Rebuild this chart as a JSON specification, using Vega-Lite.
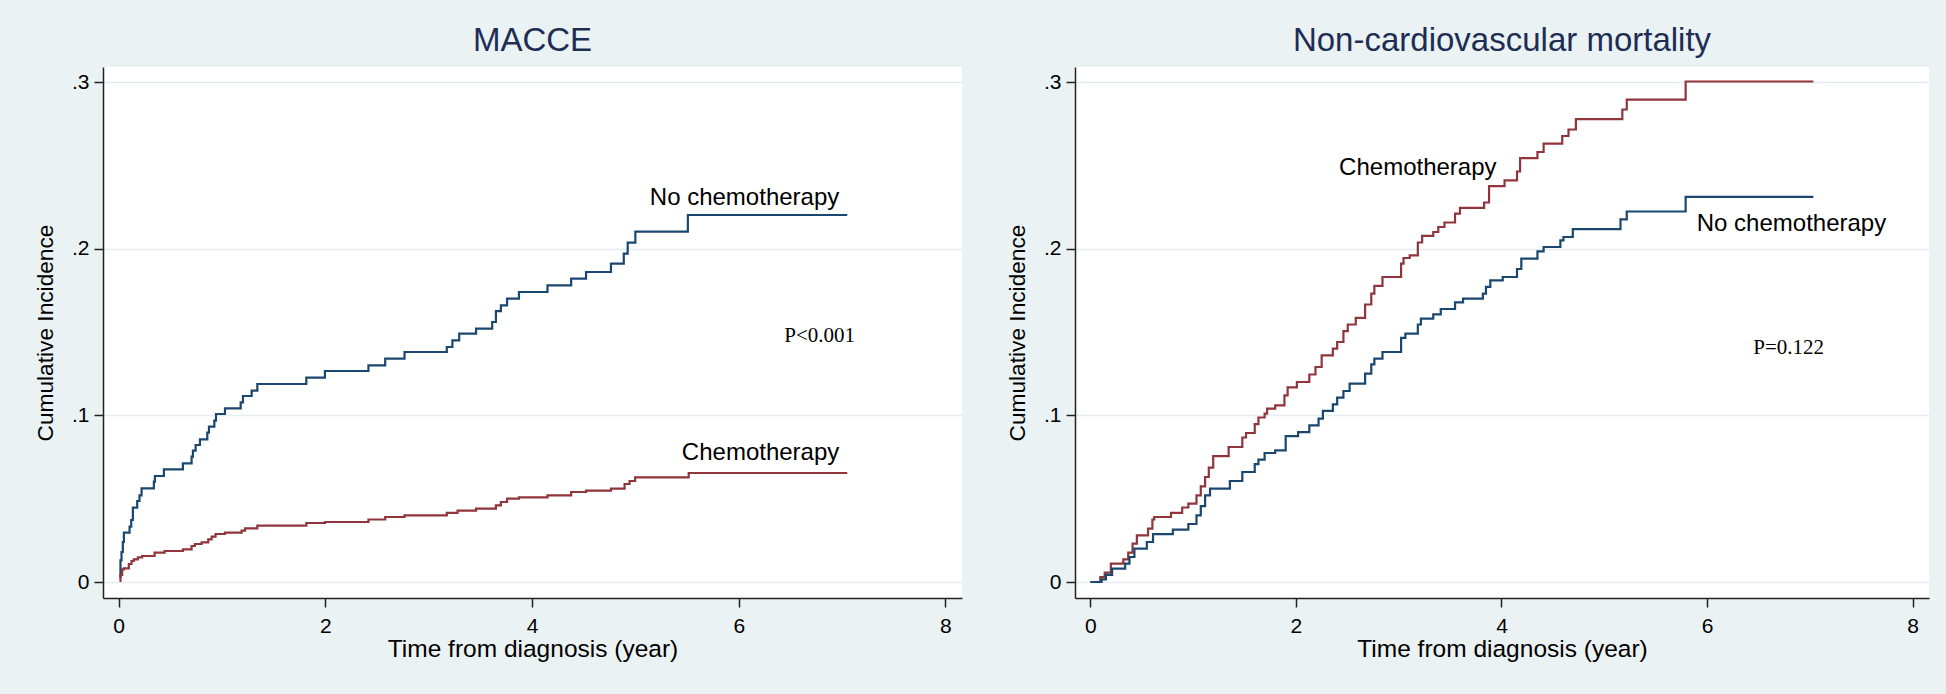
{
  "$schema": "https://vega.github.io/schema/vega-lite/v6.json",
  "background": "#EAF2F3",
  "padding": {"left": 34, "top": 25, "right": 18, "bottom": 37},
  "bounds": "flush",
  "spacing": 113,
  "datasets": {
    "curves": [
      {"p": "MACCE", "g": "No chemotherapy", "t": 0.01, "ci": 0.003},
      {"p": "MACCE", "g": "No chemotherapy", "t": 0.019, "ci": 0.013},
      {"p": "MACCE", "g": "No chemotherapy", "t": 0.029, "ci": 0.018},
      {"p": "MACCE", "g": "No chemotherapy", "t": 0.042, "ci": 0.024},
      {"p": "MACCE", "g": "No chemotherapy", "t": 0.052, "ci": 0.0296},
      {"p": "MACCE", "g": "No chemotherapy", "t": 0.107, "ci": 0.0332},
      {"p": "MACCE", "g": "No chemotherapy", "t": 0.123, "ci": 0.0372},
      {"p": "MACCE", "g": "No chemotherapy", "t": 0.139, "ci": 0.0446},
      {"p": "MACCE", "g": "No chemotherapy", "t": 0.181, "ci": 0.0486},
      {"p": "MACCE", "g": "No chemotherapy", "t": 0.203, "ci": 0.052},
      {"p": "MACCE", "g": "No chemotherapy", "t": 0.223, "ci": 0.0562},
      {"p": "MACCE", "g": "No chemotherapy", "t": 0.342, "ci": 0.0602},
      {"p": "MACCE", "g": "No chemotherapy", "t": 0.352, "ci": 0.0636},
      {"p": "MACCE", "g": "No chemotherapy", "t": 0.439, "ci": 0.0676},
      {"p": "MACCE", "g": "No chemotherapy", "t": 0.623, "ci": 0.0712},
      {"p": "MACCE", "g": "No chemotherapy", "t": 0.707, "ci": 0.0752},
      {"p": "MACCE", "g": "No chemotherapy", "t": 0.72, "ci": 0.0788},
      {"p": "MACCE", "g": "No chemotherapy", "t": 0.746, "ci": 0.0822},
      {"p": "MACCE", "g": "No chemotherapy", "t": 0.788, "ci": 0.0856},
      {"p": "MACCE", "g": "No chemotherapy", "t": 0.859, "ci": 0.0896},
      {"p": "MACCE", "g": "No chemotherapy", "t": 0.875, "ci": 0.0932},
      {"p": "MACCE", "g": "No chemotherapy", "t": 0.927, "ci": 0.0968},
      {"p": "MACCE", "g": "No chemotherapy", "t": 0.943, "ci": 0.1008},
      {"p": "MACCE", "g": "No chemotherapy", "t": 1.03, "ci": 0.1042},
      {"p": "MACCE", "g": "No chemotherapy", "t": 1.182, "ci": 0.1078},
      {"p": "MACCE", "g": "No chemotherapy", "t": 1.204, "ci": 0.1116},
      {"p": "MACCE", "g": "No chemotherapy", "t": 1.288, "ci": 0.1148},
      {"p": "MACCE", "g": "No chemotherapy", "t": 1.343, "ci": 0.1188},
      {"p": "MACCE", "g": "No chemotherapy", "t": 1.817, "ci": 0.1226},
      {"p": "MACCE", "g": "No chemotherapy", "t": 1.997, "ci": 0.1266},
      {"p": "MACCE", "g": "No chemotherapy", "t": 2.418, "ci": 0.130},
      {"p": "MACCE", "g": "No chemotherapy", "t": 2.58, "ci": 0.134},
      {"p": "MACCE", "g": "No chemotherapy", "t": 2.767, "ci": 0.138},
      {"p": "MACCE", "g": "No chemotherapy", "t": 3.176, "ci": 0.141},
      {"p": "MACCE", "g": "No chemotherapy", "t": 3.23, "ci": 0.145},
      {"p": "MACCE", "g": "No chemotherapy", "t": 3.296, "ci": 0.149},
      {"p": "MACCE", "g": "No chemotherapy", "t": 3.459, "ci": 0.152},
      {"p": "MACCE", "g": "No chemotherapy", "t": 3.615, "ci": 0.156},
      {"p": "MACCE", "g": "No chemotherapy", "t": 3.651, "ci": 0.1625},
      {"p": "MACCE", "g": "No chemotherapy", "t": 3.699, "ci": 0.166},
      {"p": "MACCE", "g": "No chemotherapy", "t": 3.759, "ci": 0.170},
      {"p": "MACCE", "g": "No chemotherapy", "t": 3.874, "ci": 0.174},
      {"p": "MACCE", "g": "No chemotherapy", "t": 4.15, "ci": 0.178},
      {"p": "MACCE", "g": "No chemotherapy", "t": 4.379, "ci": 0.182},
      {"p": "MACCE", "g": "No chemotherapy", "t": 4.523, "ci": 0.186},
      {"p": "MACCE", "g": "No chemotherapy", "t": 4.764, "ci": 0.191},
      {"p": "MACCE", "g": "No chemotherapy", "t": 4.888, "ci": 0.197},
      {"p": "MACCE", "g": "No chemotherapy", "t": 4.926, "ci": 0.2036},
      {"p": "MACCE", "g": "No chemotherapy", "t": 5.0, "ci": 0.2102},
      {"p": "MACCE", "g": "No chemotherapy", "t": 5.508, "ci": 0.2202},
      {"p": "MACCE", "g": "No chemotherapy", "t": 7.05, "ci": 0.2202},
      {"p": "MACCE", "g": "Chemotherapy", "t": 0.01, "ci": 0.0006},
      {"p": "MACCE", "g": "Chemotherapy", "t": 0.019, "ci": 0.0042},
      {"p": "MACCE", "g": "Chemotherapy", "t": 0.0355, "ci": 0.0076},
      {"p": "MACCE", "g": "Chemotherapy", "t": 0.052, "ci": 0.0082},
      {"p": "MACCE", "g": "Chemotherapy", "t": 0.1, "ci": 0.0108},
      {"p": "MACCE", "g": "Chemotherapy", "t": 0.126, "ci": 0.0126},
      {"p": "MACCE", "g": "Chemotherapy", "t": 0.148, "ci": 0.0136},
      {"p": "MACCE", "g": "Chemotherapy", "t": 0.187, "ci": 0.0148},
      {"p": "MACCE", "g": "Chemotherapy", "t": 0.229, "ci": 0.0156},
      {"p": "MACCE", "g": "Chemotherapy", "t": 0.349, "ci": 0.0176},
      {"p": "MACCE", "g": "Chemotherapy", "t": 0.446, "ci": 0.0186},
      {"p": "MACCE", "g": "Chemotherapy", "t": 0.623, "ci": 0.0196},
      {"p": "MACCE", "g": "Chemotherapy", "t": 0.707, "ci": 0.0216},
      {"p": "MACCE", "g": "Chemotherapy", "t": 0.739, "ci": 0.0228},
      {"p": "MACCE", "g": "Chemotherapy", "t": 0.804, "ci": 0.0238},
      {"p": "MACCE", "g": "Chemotherapy", "t": 0.868, "ci": 0.0256},
      {"p": "MACCE", "g": "Chemotherapy", "t": 0.901, "ci": 0.0272},
      {"p": "MACCE", "g": "Chemotherapy", "t": 0.939, "ci": 0.0288},
      {"p": "MACCE", "g": "Chemotherapy", "t": 1.03, "ci": 0.0296},
      {"p": "MACCE", "g": "Chemotherapy", "t": 1.191, "ci": 0.0308},
      {"p": "MACCE", "g": "Chemotherapy", "t": 1.224, "ci": 0.0322},
      {"p": "MACCE", "g": "Chemotherapy", "t": 1.343, "ci": 0.0338},
      {"p": "MACCE", "g": "Chemotherapy", "t": 1.817, "ci": 0.0354},
      {"p": "MACCE", "g": "Chemotherapy", "t": 1.997, "ci": 0.036},
      {"p": "MACCE", "g": "Chemotherapy", "t": 2.418, "ci": 0.0375},
      {"p": "MACCE", "g": "Chemotherapy", "t": 2.58, "ci": 0.039},
      {"p": "MACCE", "g": "Chemotherapy", "t": 2.767, "ci": 0.040},
      {"p": "MACCE", "g": "Chemotherapy", "t": 3.176, "ci": 0.0415},
      {"p": "MACCE", "g": "Chemotherapy", "t": 3.28, "ci": 0.0428},
      {"p": "MACCE", "g": "Chemotherapy", "t": 3.459, "ci": 0.044},
      {"p": "MACCE", "g": "Chemotherapy", "t": 3.651, "ci": 0.046},
      {"p": "MACCE", "g": "Chemotherapy", "t": 3.699, "ci": 0.048},
      {"p": "MACCE", "g": "Chemotherapy", "t": 3.759, "ci": 0.050},
      {"p": "MACCE", "g": "Chemotherapy", "t": 3.874, "ci": 0.0508},
      {"p": "MACCE", "g": "Chemotherapy", "t": 4.15, "ci": 0.052},
      {"p": "MACCE", "g": "Chemotherapy", "t": 4.379, "ci": 0.054},
      {"p": "MACCE", "g": "Chemotherapy", "t": 4.523, "ci": 0.0548},
      {"p": "MACCE", "g": "Chemotherapy", "t": 4.764, "ci": 0.056},
      {"p": "MACCE", "g": "Chemotherapy", "t": 4.896, "ci": 0.0588},
      {"p": "MACCE", "g": "Chemotherapy", "t": 4.944, "ci": 0.0606},
      {"p": "MACCE", "g": "Chemotherapy", "t": 4.998, "ci": 0.0628},
      {"p": "MACCE", "g": "Chemotherapy", "t": 5.516, "ci": 0.0654},
      {"p": "MACCE", "g": "Chemotherapy", "t": 7.05, "ci": 0.0654},
      {"p": "NCV", "g": "Chemotherapy", "t": 0, "ci": 0},
      {"p": "NCV", "g": "Chemotherapy", "t": 0.0965, "ci": 0.003},
      {"p": "NCV", "g": "Chemotherapy", "t": 0.139, "ci": 0.0056},
      {"p": "NCV", "g": "Chemotherapy", "t": 0.199, "ci": 0.011},
      {"p": "NCV", "g": "Chemotherapy", "t": 0.32, "ci": 0.0136},
      {"p": "NCV", "g": "Chemotherapy", "t": 0.368, "ci": 0.0176},
      {"p": "NCV", "g": "Chemotherapy", "t": 0.41, "ci": 0.023},
      {"p": "NCV", "g": "Chemotherapy", "t": 0.452, "ci": 0.028},
      {"p": "NCV", "g": "Chemotherapy", "t": 0.561, "ci": 0.032},
      {"p": "NCV", "g": "Chemotherapy", "t": 0.603, "ci": 0.0375},
      {"p": "NCV", "g": "Chemotherapy", "t": 0.621, "ci": 0.039},
      {"p": "NCV", "g": "Chemotherapy", "t": 0.784, "ci": 0.0415},
      {"p": "NCV", "g": "Chemotherapy", "t": 0.893, "ci": 0.0447},
      {"p": "NCV", "g": "Chemotherapy", "t": 0.953, "ci": 0.047},
      {"p": "NCV", "g": "Chemotherapy", "t": 1.032, "ci": 0.052},
      {"p": "NCV", "g": "Chemotherapy", "t": 1.074, "ci": 0.0574},
      {"p": "NCV", "g": "Chemotherapy", "t": 1.116, "ci": 0.063},
      {"p": "NCV", "g": "Chemotherapy", "t": 1.152, "ci": 0.0686},
      {"p": "NCV", "g": "Chemotherapy", "t": 1.195, "ci": 0.0755},
      {"p": "NCV", "g": "Chemotherapy", "t": 1.345, "ci": 0.081},
      {"p": "NCV", "g": "Chemotherapy", "t": 1.478, "ci": 0.0867},
      {"p": "NCV", "g": "Chemotherapy", "t": 1.514, "ci": 0.0894},
      {"p": "NCV", "g": "Chemotherapy", "t": 1.599, "ci": 0.0947},
      {"p": "NCV", "g": "Chemotherapy", "t": 1.635, "ci": 0.0987},
      {"p": "NCV", "g": "Chemotherapy", "t": 1.695, "ci": 0.101},
      {"p": "NCV", "g": "Chemotherapy", "t": 1.719, "ci": 0.104},
      {"p": "NCV", "g": "Chemotherapy", "t": 1.798, "ci": 0.106},
      {"p": "NCV", "g": "Chemotherapy", "t": 1.888, "ci": 0.112},
      {"p": "NCV", "g": "Chemotherapy", "t": 1.919, "ci": 0.1168},
      {"p": "NCV", "g": "Chemotherapy", "t": 2.009, "ci": 0.12},
      {"p": "NCV", "g": "Chemotherapy", "t": 2.13, "ci": 0.1245},
      {"p": "NCV", "g": "Chemotherapy", "t": 2.19, "ci": 0.129},
      {"p": "NCV", "g": "Chemotherapy", "t": 2.25, "ci": 0.136},
      {"p": "NCV", "g": "Chemotherapy", "t": 2.359, "ci": 0.14},
      {"p": "NCV", "g": "Chemotherapy", "t": 2.401, "ci": 0.144},
      {"p": "NCV", "g": "Chemotherapy", "t": 2.462, "ci": 0.1505},
      {"p": "NCV", "g": "Chemotherapy", "t": 2.504, "ci": 0.1545},
      {"p": "NCV", "g": "Chemotherapy", "t": 2.582, "ci": 0.1585},
      {"p": "NCV", "g": "Chemotherapy", "t": 2.673, "ci": 0.1665},
      {"p": "NCV", "g": "Chemotherapy", "t": 2.733, "ci": 0.173},
      {"p": "NCV", "g": "Chemotherapy", "t": 2.763, "ci": 0.1777},
      {"p": "NCV", "g": "Chemotherapy", "t": 2.842, "ci": 0.183},
      {"p": "NCV", "g": "Chemotherapy", "t": 3.023, "ci": 0.191},
      {"p": "NCV", "g": "Chemotherapy", "t": 3.047, "ci": 0.1944},
      {"p": "NCV", "g": "Chemotherapy", "t": 3.107, "ci": 0.196},
      {"p": "NCV", "g": "Chemotherapy", "t": 3.186, "ci": 0.2037},
      {"p": "NCV", "g": "Chemotherapy", "t": 3.228, "ci": 0.2077},
      {"p": "NCV", "g": "Chemotherapy", "t": 3.336, "ci": 0.21},
      {"p": "NCV", "g": "Chemotherapy", "t": 3.385, "ci": 0.213},
      {"p": "NCV", "g": "Chemotherapy", "t": 3.445, "ci": 0.2157},
      {"p": "NCV", "g": "Chemotherapy", "t": 3.548, "ci": 0.221},
      {"p": "NCV", "g": "Chemotherapy", "t": 3.596, "ci": 0.2245},
      {"p": "NCV", "g": "Chemotherapy", "t": 3.831, "ci": 0.2277},
      {"p": "NCV", "g": "Chemotherapy", "t": 3.879, "ci": 0.2375},
      {"p": "NCV", "g": "Chemotherapy", "t": 4.03, "ci": 0.241},
      {"p": "NCV", "g": "Chemotherapy", "t": 4.151, "ci": 0.2463},
      {"p": "NCV", "g": "Chemotherapy", "t": 4.181, "ci": 0.2543},
      {"p": "NCV", "g": "Chemotherapy", "t": 4.35, "ci": 0.258},
      {"p": "NCV", "g": "Chemotherapy", "t": 4.41, "ci": 0.263},
      {"p": "NCV", "g": "Chemotherapy", "t": 4.591, "ci": 0.2676},
      {"p": "NCV", "g": "Chemotherapy", "t": 4.652, "ci": 0.2715},
      {"p": "NCV", "g": "Chemotherapy", "t": 4.724, "ci": 0.2777},
      {"p": "NCV", "g": "Chemotherapy", "t": 5.176, "ci": 0.2835},
      {"p": "NCV", "g": "Chemotherapy", "t": 5.219, "ci": 0.2894},
      {"p": "NCV", "g": "Chemotherapy", "t": 5.792, "ci": 0.3003},
      {"p": "NCV", "g": "Chemotherapy", "t": 7.035, "ci": 0.3003},
      {"p": "NCV", "g": "No chemotherapy", "t": 0, "ci": 0},
      {"p": "NCV", "g": "No chemotherapy", "t": 0.1086, "ci": 0.0016},
      {"p": "NCV", "g": "No chemotherapy", "t": 0.151, "ci": 0.0043},
      {"p": "NCV", "g": "No chemotherapy", "t": 0.211, "ci": 0.008},
      {"p": "NCV", "g": "No chemotherapy", "t": 0.338, "ci": 0.011},
      {"p": "NCV", "g": "No chemotherapy", "t": 0.38, "ci": 0.015},
      {"p": "NCV", "g": "No chemotherapy", "t": 0.428, "ci": 0.02},
      {"p": "NCV", "g": "No chemotherapy", "t": 0.549, "ci": 0.024},
      {"p": "NCV", "g": "No chemotherapy", "t": 0.609, "ci": 0.0287},
      {"p": "NCV", "g": "No chemotherapy", "t": 0.802, "ci": 0.0314},
      {"p": "NCV", "g": "No chemotherapy", "t": 0.953, "ci": 0.0348},
      {"p": "NCV", "g": "No chemotherapy", "t": 1.032, "ci": 0.04},
      {"p": "NCV", "g": "No chemotherapy", "t": 1.074, "ci": 0.0455},
      {"p": "NCV", "g": "No chemotherapy", "t": 1.116, "ci": 0.052},
      {"p": "NCV", "g": "No chemotherapy", "t": 1.164, "ci": 0.056},
      {"p": "NCV", "g": "No chemotherapy", "t": 1.357, "ci": 0.0606},
      {"p": "NCV", "g": "No chemotherapy", "t": 1.478, "ci": 0.066},
      {"p": "NCV", "g": "No chemotherapy", "t": 1.599, "ci": 0.0707},
      {"p": "NCV", "g": "No chemotherapy", "t": 1.635, "ci": 0.0734},
      {"p": "NCV", "g": "No chemotherapy", "t": 1.695, "ci": 0.0774},
      {"p": "NCV", "g": "No chemotherapy", "t": 1.798, "ci": 0.079},
      {"p": "NCV", "g": "No chemotherapy", "t": 1.9, "ci": 0.0875},
      {"p": "NCV", "g": "No chemotherapy", "t": 2.021, "ci": 0.0899},
      {"p": "NCV", "g": "No chemotherapy", "t": 2.13, "ci": 0.094},
      {"p": "NCV", "g": "No chemotherapy", "t": 2.22, "ci": 0.098},
      {"p": "NCV", "g": "No chemotherapy", "t": 2.262, "ci": 0.1027},
      {"p": "NCV", "g": "No chemotherapy", "t": 2.359, "ci": 0.1066},
      {"p": "NCV", "g": "No chemotherapy", "t": 2.401, "ci": 0.1106},
      {"p": "NCV", "g": "No chemotherapy", "t": 2.462, "ci": 0.1146},
      {"p": "NCV", "g": "No chemotherapy", "t": 2.522, "ci": 0.119},
      {"p": "NCV", "g": "No chemotherapy", "t": 2.673, "ci": 0.125},
      {"p": "NCV", "g": "No chemotherapy", "t": 2.733, "ci": 0.1306},
      {"p": "NCV", "g": "No chemotherapy", "t": 2.763, "ci": 0.134},
      {"p": "NCV", "g": "No chemotherapy", "t": 2.842, "ci": 0.138},
      {"p": "NCV", "g": "No chemotherapy", "t": 3.023, "ci": 0.1465},
      {"p": "NCV", "g": "No chemotherapy", "t": 3.065, "ci": 0.149},
      {"p": "NCV", "g": "No chemotherapy", "t": 3.186, "ci": 0.1545},
      {"p": "NCV", "g": "No chemotherapy", "t": 3.216, "ci": 0.158},
      {"p": "NCV", "g": "No chemotherapy", "t": 3.336, "ci": 0.1606},
      {"p": "NCV", "g": "No chemotherapy", "t": 3.409, "ci": 0.1638},
      {"p": "NCV", "g": "No chemotherapy", "t": 3.548, "ci": 0.1678},
      {"p": "NCV", "g": "No chemotherapy", "t": 3.626, "ci": 0.17},
      {"p": "NCV", "g": "No chemotherapy", "t": 3.819, "ci": 0.173},
      {"p": "NCV", "g": "No chemotherapy", "t": 3.849, "ci": 0.1771},
      {"p": "NCV", "g": "No chemotherapy", "t": 3.891, "ci": 0.181},
      {"p": "NCV", "g": "No chemotherapy", "t": 4.012, "ci": 0.183},
      {"p": "NCV", "g": "No chemotherapy", "t": 4.151, "ci": 0.1878},
      {"p": "NCV", "g": "No chemotherapy", "t": 4.193, "ci": 0.194},
      {"p": "NCV", "g": "No chemotherapy", "t": 4.35, "ci": 0.1984},
      {"p": "NCV", "g": "No chemotherapy", "t": 4.41, "ci": 0.201},
      {"p": "NCV", "g": "No chemotherapy", "t": 4.573, "ci": 0.205},
      {"p": "NCV", "g": "No chemotherapy", "t": 4.603, "ci": 0.207},
      {"p": "NCV", "g": "No chemotherapy", "t": 4.694, "ci": 0.2117},
      {"p": "NCV", "g": "No chemotherapy", "t": 5.158, "ci": 0.2176},
      {"p": "NCV", "g": "No chemotherapy", "t": 5.219, "ci": 0.2223},
      {"p": "NCV", "g": "No chemotherapy", "t": 5.792, "ci": 0.2311},
      {"p": "NCV", "g": "No chemotherapy", "t": 7.035, "ci": 0.2311}
    ],
    "notes": [
      {"p": "MACCE", "kind": "group", "label": "No chemotherapy", "t": 5.14, "ci": 0.226},
      {"p": "MACCE", "kind": "group", "label": "Chemotherapy", "t": 5.45, "ci": 0.073},
      {"p": "MACCE", "kind": "pvalue", "label": "P<0.001", "t": 6.44, "ci": 0.144},
      {"p": "NCV", "kind": "group", "label": "Chemotherapy", "t": 2.42, "ci": 0.244},
      {"p": "NCV", "kind": "group", "label": "No chemotherapy", "t": 5.9, "ci": 0.2106},
      {"p": "NCV", "kind": "pvalue", "label": "P=0.122", "t": 6.45, "ci": 0.137}
    ]
  },
  "config": {
    "font": "Liberation Sans",
    "view": {"fill": "#FFFFFF", "stroke": null},
    "axis": {
      "domainColor": "#222222",
      "domainWidth": 1.5,
      "tickColor": "#222222",
      "tickWidth": 1.5,
      "tickSize": 9,
      "labelColor": "#000000",
      "labelFont": "Liberation Sans",
      "labelFontSize": 21,
      "titleColor": "#000000",
      "titleFont": "Liberation Sans",
      "titleFontWeight": "normal",
      "gridColor": "#E3ECEF",
      "gridWidth": 1.5,
      "labelFlush": false,
      "labelOverlap": false
    },
    "axisX": {"grid": false, "labelPadding": 8, "titlePadding": 1, "titleFontSize": 24.5, "format": "d"},
    "axisY": {"grid": true, "labelPadding": 5, "titlePadding": 14, "titleFontSize": 22.7, "minExtent": 32, "maxExtent": 32},
    "title": {"font": "Liberation Sans", "fontSize": 33, "fontWeight": "normal", "color": "#1E2D54", "offset": 9, "baseline": "alphabetic"}
  },
  "hconcat": [
    {
      "title": "MACCE",
      "width": 859,
      "height": 531,
      "layer": [
        {
          "data": {"name": "curves"},
          "transform": [{"filter": "datum.p === 'MACCE'"}],
          "mark": {"type": "line", "interpolate": "step-after", "strokeWidth": 2.2},
          "encoding": {
            "x": {"field": "t", "type": "quantitative", "scale": {"domain": [-0.15, 8.16], "nice": false, "zero": false}, "axis": {"values": [0, 2, 4, 6, 8], "format": "d", "title": "Time from diagnosis (year)"}},
            "y": {"field": "ci", "type": "quantitative", "scale": {"domain": [-0.0096, 0.309], "nice": false, "zero": false}, "axis": {"values": [0, 0.1, 0.2, 0.3], "title": "Cumulative Incidence", "labelExpr": "datum.value == 0 ? '0' : replace(format(datum.value, '.1f'), '0.', '.')"}},
            "color": {"field": "g", "type": "nominal", "scale": {"domain": ["No chemotherapy", "Chemotherapy"], "range": ["#1A476F", "#90353B"]}, "legend": null}
          }
        },
        {
          "data": {"name": "notes"},
          "transform": [{"filter": "datum.p === 'MACCE' && datum.kind === 'group'"}],
          "mark": {"type": "text", "align": "left", "baseline": "alphabetic", "font": "Liberation Sans", "fontSize": 24, "color": "#000000"},
          "encoding": {
            "x": {"field": "t", "type": "quantitative"},
            "y": {"field": "ci", "type": "quantitative"},
            "text": {"field": "label"}
          }
        },
        {
          "data": {"name": "notes"},
          "transform": [{"filter": "datum.p === 'MACCE' && datum.kind === 'pvalue'"}],
          "mark": {"type": "text", "align": "left", "baseline": "alphabetic", "font": "Liberation Serif", "fontSize": 21, "color": "#000000"},
          "encoding": {
            "x": {"field": "t", "type": "quantitative"},
            "y": {"field": "ci", "type": "quantitative"},
            "text": {"field": "label"}
          }
        }
      ]
    },
    {
      "title": "Non-cardiovascular mortality",
      "width": 854,
      "height": 531,
      "layer": [
        {
          "data": {"name": "curves"},
          "transform": [{"filter": "datum.p === 'NCV'"}],
          "mark": {"type": "line", "interpolate": "step-after", "strokeWidth": 2.2},
          "encoding": {
            "x": {"field": "t", "type": "quantitative", "scale": {"domain": [-0.15, 8.16], "nice": false, "zero": false}, "axis": {"values": [0, 2, 4, 6, 8], "format": "d", "title": "Time from diagnosis (year)"}},
            "y": {"field": "ci", "type": "quantitative", "scale": {"domain": [-0.0096, 0.309], "nice": false, "zero": false}, "axis": {"values": [0, 0.1, 0.2, 0.3], "title": "Cumulative Incidence", "labelExpr": "datum.value == 0 ? '0' : replace(format(datum.value, '.1f'), '0.', '.')"}},
            "color": {"field": "g", "type": "nominal", "scale": {"domain": ["No chemotherapy", "Chemotherapy"], "range": ["#1A476F", "#90353B"]}, "legend": null}
          }
        },
        {
          "data": {"name": "notes"},
          "transform": [{"filter": "datum.p === 'NCV' && datum.kind === 'group'"}],
          "mark": {"type": "text", "align": "left", "baseline": "alphabetic", "font": "Liberation Sans", "fontSize": 24, "color": "#000000"},
          "encoding": {
            "x": {"field": "t", "type": "quantitative"},
            "y": {"field": "ci", "type": "quantitative"},
            "text": {"field": "label"}
          }
        },
        {
          "data": {"name": "notes"},
          "transform": [{"filter": "datum.p === 'NCV' && datum.kind === 'pvalue'"}],
          "mark": {"type": "text", "align": "left", "baseline": "alphabetic", "font": "Liberation Serif", "fontSize": 21, "color": "#000000"},
          "encoding": {
            "x": {"field": "t", "type": "quantitative"},
            "y": {"field": "ci", "type": "quantitative"},
            "text": {"field": "label"}
          }
        }
      ]
    }
  ]
}
